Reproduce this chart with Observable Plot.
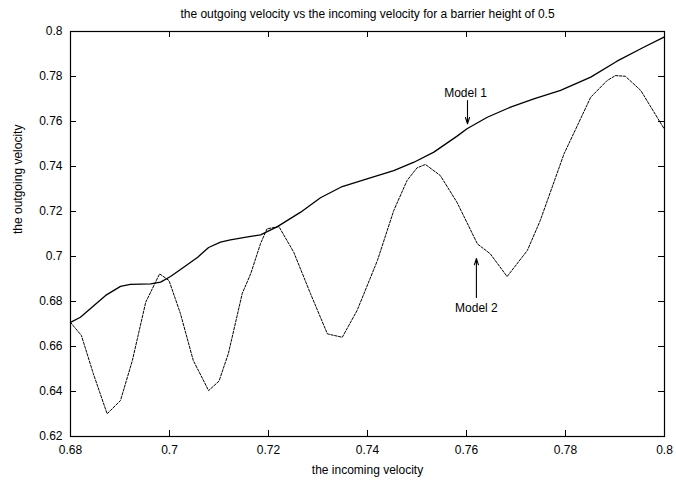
<!DOCTYPE html>
<html>
<head>
<meta charset="utf-8">
<script src="https://cdn.jsdelivr.net/npm/d3@7"></script>
<script src="https://cdn.jsdelivr.net/npm/@observablehq/plot@0.6"></script>
<style>
  html, body { margin: 0; padding: 0; background: white; }
</style>
</head>
<body>
<div id="chart"></div>
<script>
const title = "the outgoing velocity vs the incoming velocity for a barrier height of 0.5";
const xLabel = "the incoming velocity";
const yLabel = "the outgoing velocity";
const xTicks = [0.68, 0.70, 0.72, 0.74, 0.76, 0.78, 0.80];
const yTicks = [0.62, 0.64, 0.66, 0.68, 0.70, 0.72, 0.74, 0.76, 0.78, 0.80];

const model1X = [0.6800, 0.6820, 0.6871, 0.6901, 0.6921, 0.6962, 0.6982, 0.7002, 0.7028, 0.7057, 0.7079, 0.7103, 0.7123, 0.7164, 0.7184, 0.7218, 0.7265, 0.7305, 0.7349, 0.7399, 0.7453, 0.7494, 0.7534, 0.7581, 0.7601, 0.7642, 0.7689, 0.7736, 0.7790, 0.7851, 0.7904, 0.7958, 0.8000];
const model1Y = [0.6707, 0.6730, 0.6827, 0.6867, 0.6876, 0.6878, 0.6886, 0.6911, 0.6951, 0.6997, 0.7040, 0.7064, 0.7074, 0.7089, 0.7096, 0.7133, 0.7197, 0.7261, 0.7311, 0.7345, 0.7382, 0.7419, 0.7464, 0.7535, 0.7568, 0.7619, 0.7664, 0.7701, 0.7738, 0.7797, 0.7868, 0.7930, 0.7976];

const model2X = [0.6800, 0.6822, 0.6846, 0.6874, 0.6901, 0.6925, 0.6952, 0.6980, 0.6999, 0.7022, 0.7048, 0.7079, 0.7100, 0.7119, 0.7147, 0.7164, 0.7184, 0.7197, 0.7221, 0.7251, 0.7285, 0.7319, 0.7349, 0.7379, 0.7420, 0.7453, 0.7480, 0.7500, 0.7517, 0.7547, 0.7581, 0.7622, 0.7648, 0.7682, 0.7723, 0.7749, 0.7797, 0.7851, 0.7884, 0.7901, 0.7921, 0.7952, 0.8000];
const model2Y = [0.6707, 0.6649, 0.6480, 0.6301, 0.6360, 0.6538, 0.6797, 0.6923, 0.6893, 0.6747, 0.6538, 0.6404, 0.6446, 0.6569, 0.6836, 0.6923, 0.7058, 0.7123, 0.7133, 0.7019, 0.6834, 0.6656, 0.6641, 0.6760, 0.6982, 0.7204, 0.7338, 0.7394, 0.7409, 0.7360, 0.7240, 0.7056, 0.7012, 0.6911, 0.7027, 0.7160, 0.7456, 0.7708, 0.7782, 0.7804, 0.7801, 0.7738, 0.7565];

const labelNames = ["Model 1", "Model 2"];
const labelX = [0.7598, 0.7620];
const labelY = [0.7727, 0.6769];
const arrowX = [0.7602, 0.7620];
const arrowFromY = [0.7693, 0.6818];
const arrowToY = [0.7590, 0.6991];

const fmt = d => String(+d.toFixed(2));
const W = 676, H = 482, ML = 70, MR = 12, MT = 31, MB = 46;
const FW = W - ML - MR, FH = H - MT - MB, TL = 6;

const chart = Plot.plot({
  width: W, height: H,
  marginLeft: ML, marginRight: MR, marginTop: MT, marginBottom: MB,
  style: { fontFamily: "'Liberation Sans', Arial, Helvetica, sans-serif", fontSize: "12px", background: "white", color: "black" },
  x: { domain: [0.68, 0.80] },
  y: { domain: [0.62, 0.80] },
  marks: [
    Plot.axisX(xTicks, { tickSize: 0, tickPadding: 9, tickFormat: fmt, label: null, fontSize: 12 }),
    Plot.axisY(yTicks, { tickSize: 0, tickPadding: 8, tickFormat: fmt, label: null, fontSize: 12 }),
    Plot.tickX(xTicks, { x: d => d, insetTop: FH - TL, stroke: "black" }),
    Plot.tickX(xTicks, { x: d => d, insetBottom: FH - TL, stroke: "black" }),
    Plot.tickY(yTicks, { y: d => d, insetRight: FW - TL, stroke: "black" }),
    Plot.tickY(yTicks, { y: d => d, insetLeft: FW - TL, stroke: "black" }),
    Plot.line(model1X, { x: model1X, y: model1Y, stroke: "black", strokeWidth: 1.3 }),
    Plot.line(model2X, { x: model2X, y: model2Y, stroke: "black", strokeWidth: 1, strokeDasharray: "2.5,1.5" }),
    Plot.arrow(arrowX, { x1: arrowX, y1: arrowFromY, x2: arrowX, y2: arrowToY, stroke: "black", strokeWidth: 1.1, headLength: 9, headAngle: 36 }),
    Plot.text(labelNames, { x: labelX, y: labelY, text: labelNames, fontSize: 12, fill: "black" }),
    Plot.frame({ stroke: "black", strokeWidth: 1.2 }),
    Plot.text([title], { frameAnchor: "top", dy: -17, lineAnchor: "middle", text: d => d, fontSize: 12 }),
    Plot.text([xLabel], { frameAnchor: "bottom", dy: 34, lineAnchor: "middle", text: d => d, fontSize: 12 }),
    Plot.text([yLabel], { frameAnchor: "left", dx: -52, rotate: -90, lineAnchor: "middle", text: d => d, fontSize: 12 })
  ]
});
document.getElementById("chart").appendChild(chart);
</script>
</body>
</html>
